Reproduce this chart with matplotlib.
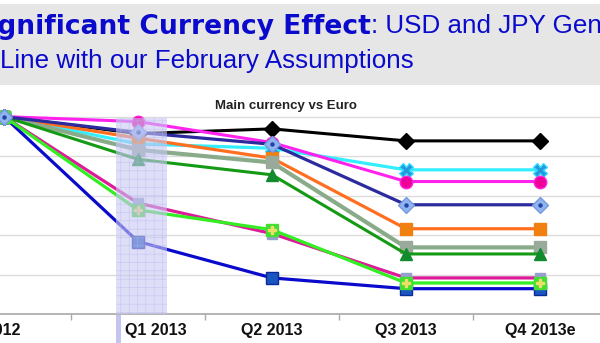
import matplotlib
matplotlib.use("Agg")
import matplotlib.pyplot as plt
import matplotlib.transforms as mtransforms
from matplotlib.patches import Rectangle

# Quarterly index of each currency against the euro (Q4 2012 = 100)
quarters = ["Q4 2012", "Q1 2013", "Q2 2013", "Q3 2013", "Q4 2013e"]
series_black = [100, 97.85, 98.45, 96.93, 96.93]
series_cyan = [100, 96.55, 96.0, 93.27, 93.27]
series_magenta = [100, 99.37, 96.72, 91.79, 91.79]
series_navy = [100, 98.0, 96.5, 88.85, 88.85]
series_orange = [100, 97.27, 94.75, 85.82, 85.82]
series_sage = [100, 95.8, 94.2, 83.46, 83.46]
series_green = [100, 94.6, 92.64, 82.63, 82.63]
series_pink = [100, 89.07, 85.2, 79.6, 79.6]
series_lime = [100, 88.2, 85.7, 78.96, 78.96]
series_blue = [100, 84.2, 79.6, 78.24, 78.24]

W, H = 600, 343
fig = plt.figure(figsize=(W / 100, H / 100), dpi=100)
fig.patch.set_facecolor("white")

# slide header band
fig.patches.append(Rectangle((0, (H - 85) / H), 1, 81 / H, transform=fig.transFigure,
                             facecolor="#e6e6e6", edgecolor="none", zorder=0))
title_blue = "#0a0acc"
base1 = (H - 33.5) / H
fig.text(371 / W, base1, "Significant Currency Effect", ha="right", va="baseline",
         family="DejaVu Sans", fontweight="bold", fontsize=19.1, color=title_blue)
fig.text(371 / W, base1, ": USD and JPY Generally in", ha="left", va="baseline",
         family="Liberation Sans", fontsize=18.7, color=title_blue)
fig.text(0.0, (H - 68.3) / H, "Line with our February Assumptions", ha="left", va="baseline",
         family="Liberation Sans", fontsize=18.7, color=title_blue)

# chart area
ax_bottom = (H - 314.3) / H
ax = fig.add_axes([0, ax_bottom, 1, 214.3 / H])
ax.set_facecolor("none")
x = list(range(len(quarters)))
ax.set_xlim(-4 / 134, 596 / 134)
ax.set_ylim(75, 102.1)

ax.set_yticks([80, 85, 90, 95, 100])
ax.yaxis.grid(True, color="#dcdcdc", linewidth=1.0, zorder=0)
ax.tick_params(axis="y", length=0, labelleft=False)
for side in ("left", "right", "top"):
    ax.spines[side].set_visible(False)
ax.spines["bottom"].set_color("#a8a8a8")
ax.spines["bottom"].set_linewidth(1.2)

ax.set_xticks(x)
ax.set_xticklabels(quarters, family="Liberation Sans", fontweight="bold", fontsize=11.5,
                   color="#111111")
ax.set_xticks([0.5, 1.5, 2.5, 3.5], minor=True)
ax.tick_params(axis="x", which="major", length=0, pad=6)
ax.tick_params(axis="x", which="minor", length=4, width=1, color="#aaaaaa")
label_shift = {0: -14, 1: 18}
for i, lab in enumerate(ax.get_xticklabels()):
    if i in label_shift:
        lab.set_transform(lab.get_transform() +
                          mtransforms.ScaledTranslation(label_shift[i] / 100, 0, fig.dpi_scale_trans))

common = dict(clip_on=False, solid_joinstyle="round")
ax.plot(x, series_black, color="#000000", lw=2.2, marker="D", ms=8, mfc="#000000",
        mec="#000000", zorder=3, **common)
ax.plot(x, series_cyan, color="#33eeff", lw=2.3, marker="X", ms=10, mfc="#2299dd",
        mec="#33ddff", mew=1, zorder=3, **common)
ax.plot(x, series_magenta, color="#ff22ee", lw=2.2, marker="o", ms=9, mfc="#ee0099",
        mec="#ff22dd", mew=1, zorder=3, **common)
ax.plot(x, series_orange, color="#ff6f1f", lw=2.3, marker="s", ms=9, mfc="#f08010",
        mec="#f08010", zorder=3, **common)
ax.plot(x, series_sage, color="#8aab8a", lw=3.0, marker="s", ms=8, mfc="#9aaa9a",
        mec="#9aaa9a", zorder=3, **common)
ax.plot(x, series_green, color="#159a15", lw=2.2, marker="^", ms=9, mfc="#128a2e",
        mec="#128a2e", zorder=3, **common)
ax.plot(x, series_pink, color="#dd1a99", lw=2.3, marker="s", ms=7.5, mfc="#95a0cc",
        mec="#95a0cc", zorder=3, **common)
ax.plot(x, series_blue, color="#0a0acc", lw=2.3, marker="s", ms=8.5, mfc="#1a55c0",
        mec="#0a2a99", mew=1, zorder=3, **common)
ax.plot(x, series_lime, color="#33ee22", lw=2.3, marker="s", ms=8.5, mfc="#44dd33",
        mec="#44dd33", zorder=3, **common)
ax.plot(x, series_lime, linestyle="none", marker="P", ms=6, mfc="#eedd66", mec="#eedd66",
        zorder=3, clip_on=False)
ax.plot(x, series_navy, color="#2b2b9f", lw=2.3, marker="D", ms=8, mfc="#8fb4ee",
        mec="#7799dd", mew=1, zorder=3, **common)
ax.plot(x, series_navy, linestyle="none", marker="o", ms=2.2, mfc="#2244aa", mec="#2244aa",
        zorder=3, clip_on=False)

# highlighted quarter
plt.rcParams["hatch.linewidth"] = 0.4
ax.add_patch(Rectangle((0.836, 75), 0.378, 24.8, facecolor="#c8c8f4", alpha=0.6,
                       edgecolor="#b4b4ee", hatch="++", linewidth=0, zorder=10))
fig.patches.append(Rectangle((116 / W, 0), 5 / W, (H - 315) / H, transform=fig.transFigure,
                             facecolor="#c4c4ee", edgecolor="none", zorder=5))

fig.text(286 / W, (H - 109.3) / H, "Main currency vs Euro", ha="center", va="baseline",
         family="Liberation Sans", fontweight="bold", fontsize=9.5, color="#222222")

fig.savefig("out.png", dpi=100)
